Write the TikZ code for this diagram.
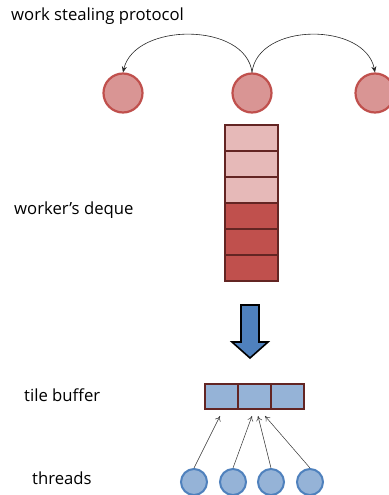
\documentclass[tikz,border=0pt]{standalone}
\usepackage{fontspec}
\setmainfont{Open Sans}
\usetikzlibrary{arrows.meta}
\definecolor{redfill}{HTML}{D99594}
\definecolor{redborder}{HTML}{C0504D}
\definecolor{lightcell}{HTML}{E6B9B8}
\definecolor{darkcell}{HTML}{C0504D}
\definecolor{cellborder}{HTML}{632523}
\definecolor{bluefill}{HTML}{95B3D7}
\definecolor{blueborder}{HTML}{4F81BD}
\definecolor{bigarrow}{HTML}{4F81BD}
\tikzset{
  worker/.style={circle, draw=redborder, fill=redfill, line width=2.2pt, minimum size=39pt, inner sep=0pt},
  thread/.style={circle, draw=blueborder, fill=bluefill, line width=2pt, minimum size=26pt, inner sep=0pt},
  lightbox/.style={draw=cellborder, fill=lightcell, line width=1.3pt, minimum width=53pt, minimum height=26pt, inner sep=0pt},
  darkbox/.style={draw=cellborder, fill=darkcell, line width=1.3pt, minimum width=53pt, minimum height=26pt, inner sep=0pt},
  tilebox/.style={draw=cellborder, fill=bluefill, line width=1.3pt, minimum width=33pt, minimum height=25pt, inner sep=0pt},
  label/.style={anchor=west, font=\fontsize{16.7}{19}\selectfont, inner sep=0pt},
  steal/.style={-{Stealth[length=6pt,width=5pt]}, line width=0.6pt, black!85},
  access/.style={-{To[length=5pt,width=6pt]}, line width=0.5pt, black!80}
}
\begin{document}
\begin{tikzpicture}[x=1pt,y=-1pt]
\useasboundingbox (0,0) rectangle (388,495);
% labels
\node[label] (t1) at (11,16) {work stealing protocol};
\node[label] (t2) at (14,210) {worker’s deque};
\node[label] (t3) at (24,395) {tile buffer};
\node[label] (t4) at (32,478) {threads};
% workers
\node[worker] (w1) at (123,93) {};
\node[worker] (w2) at (252,93) {};
\node[worker] (w3) at (375,93) {};
\draw[steal] (w2.north) .. controls (246,22) and (135,22) .. (w1.north);
\draw[steal] (w2.north) .. controls (258,22) and (365,22) .. (w3.north);
% deque
\node[lightbox] (d1) at (251.5,138) {};
\node[lightbox] (d2) at (251.5,164) {};
\node[lightbox] (d3) at (251.5,190) {};
\node[darkbox] (d4) at (251.5,216) {};
\node[darkbox] (d5) at (251.5,242) {};
\node[darkbox] (d6) at (251.5,268) {};
% big arrow
\draw[fill=bigarrow, draw=black, line width=1.6pt, line join=miter]
  (241,305) -- (259,305) -- (259,342) -- (268,342) -- (250,358) -- (232,342) -- (241,342) -- cycle;
% tile buffer
\node[tilebox] (b1) at (221.5,396.5) {};
\node[tilebox] (b2) at (254.5,396.5) {};
\node[tilebox] (b3) at (287.5,396.5) {};
% threads
\node[thread] (h1) at (194,482) {};
\node[thread] (h2) at (233,482) {};
\node[thread] (h3) at (271,482) {};
\node[thread] (h4) at (310,482) {};
\coordinate (a1) at (220,416);
\coordinate (a2) at (252,416);
\coordinate (a3) at (258,416);
\coordinate (a4) at (265,416);
\draw[access] (h1.north) -- (a1);
\draw[access] (h2.north) -- (a2);
\draw[access] (h3.north) -- (a3);
\draw[access] (h4.north) -- (a4);
\end{tikzpicture}
\end{document}
